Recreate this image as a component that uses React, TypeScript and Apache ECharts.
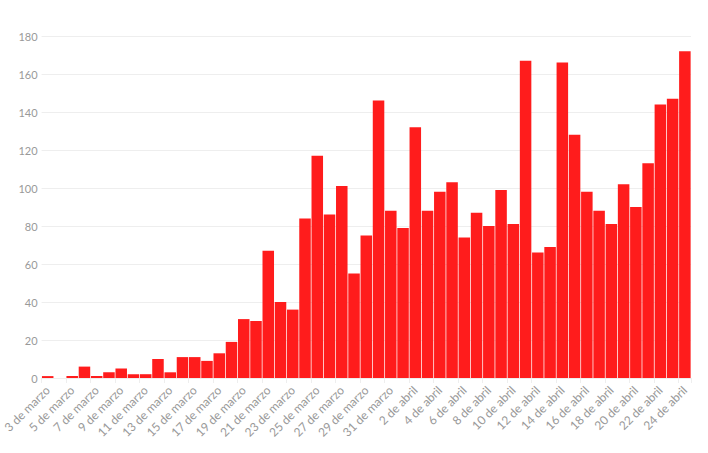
import React, { useEffect, useRef } from 'react';
import * as echarts from 'echarts';

const marchDays = [3, 4, 5, 6, 7, 8, 9, 10, 11, 12, 13, 14, 15, 16, 17, 18, 19, 20, 21, 22, 23, 24, 25, 26, 27, 28, 29, 30, 31];
const aprilDays = [1, 2, 3, 4, 5, 6, 7, 8, 9, 10, 11, 12, 13, 14, 15, 16, 17, 18, 19, 20, 21, 22, 23, 24];

const categories = [
  ...marchDays.map((d) => `${d} de marzo`),
  ...aprilDays.map((d) => `${d} de abril`),
];

const marchValues = [1, 0, 1, 6, 1, 3, 5, 2, 2, 10, 3, 11, 11, 9, 13, 19, 31, 30, 67, 40, 36, 84, 117, 86, 101, 55, 75, 146, 88];
const aprilValues = [79, 132, 88, 98, 103, 74, 87, 80, 99, 81, 167, 66, 69, 166, 128, 98, 88, 81, 102, 90, 113, 144, 147, 172];

const values = [...marchValues, ...aprilValues];

const App: React.FC = () => {
  const chartRef = useRef<HTMLDivElement>(null);

  useEffect(() => {
    if (!chartRef.current) return;
    const chart = echarts.init(chartRef.current, undefined, { renderer: 'svg' });

    const option = {
      animation: false,
      textStyle: { fontFamily: 'Lato, "Noto Sans", sans-serif' },
      grid: { left: 40, right: 17, top: 36, bottom: 75 },
      xAxis: {
        type: 'category',
        data: categories,
        axisLine: { show: false },
        axisTick: { show: true, interval: 1, length: 5, lineStyle: { color: '#eeeeee' } },
        axisLabel: {
          interval: 1,
          rotate: 45,
          color: '#999999',
          fontSize: 12,
          margin: 10,
        },
      },
      yAxis: {
        type: 'value',
        min: 0,
        max: 180,
        interval: 20,
        axisLine: { show: false },
        axisTick: { show: false },
        axisLabel: { color: '#999999', fontSize: 11, margin: 4 },
        splitLine: { lineStyle: { color: '#eeeeee' } },
      },
      series: [
        {
          type: 'bar',
          data: values,
          barCategoryGap: '6%',
          itemStyle: { color: '#ff1c1c' },
        },
      ],
    };

    chart.setOption(option);

    return () => {
      chart.dispose();
    };
  }, []);

  return (
    <div
      ref={chartRef}
      style={{ position: 'fixed', left: 0, top: 0, width: '708px', height: '453px', background: '#fff' }}
    ></div>
  );
};

export default App;
